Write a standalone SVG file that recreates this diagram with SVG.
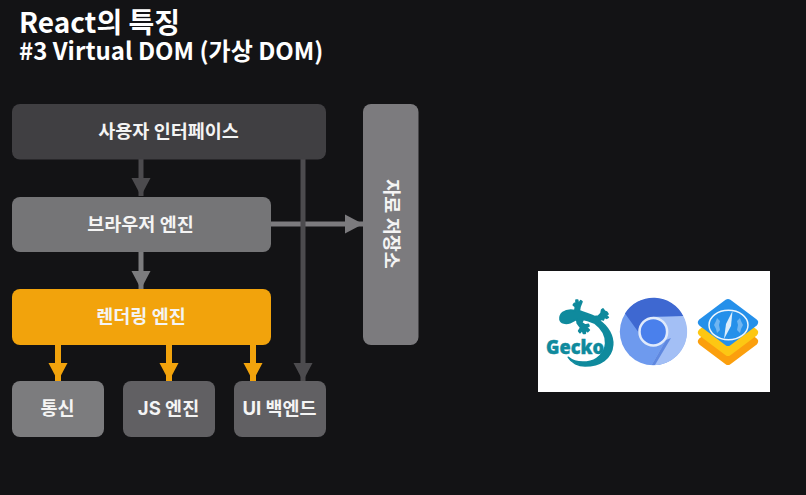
<svg xmlns="http://www.w3.org/2000/svg" width="806" height="495" viewBox="0 0 806 495">
<defs>
<style>
.t{font-family:"Noto Sans CJK KR","Noto Sans",sans-serif;fill:#fff;font-weight:700}
.n{font-family:"Inter","Noto Sans CJK KR",sans-serif;font-weight:700;font-size:18.500px;fill:#f4f4f4;text-anchor:middle}
.d{stroke-linejoin:round;stroke-width:8}
</style>
<marker id="a" markerUnits="userSpaceOnUse" markerWidth="20" markerHeight="22" refX="18" refY="11" orient="auto"><path d="M0 1.500L18 11L0 20.500Z" fill="context-stroke"/></marker>
</defs>
<rect width="806" height="495" fill="#131315"/>
<g id="title">
<text class="t" x="19" y="33" font-size="28">React의 특징</text>
<text class="t" x="19" y="60" font-size="24">#3 Virtual DOM (가상 DOM)</text>
</g>
<g id="connectors" fill="none" stroke-width="5">
<path d="M141 159V196" stroke="#4c4b4e" marker-end="url(#a)"/>
<path d="M141 252V289" stroke="#7c7c7e" marker-end="url(#a)"/>
<path d="M271 224H363" stroke="#7c7b7e" marker-end="url(#a)"/>
<path d="M303 159V381" stroke="#4c4b4e" marker-end="url(#a)"/>
<path d="M58 345V381" stroke="#f2a30c" stroke-width="6" marker-end="url(#a)"/>
<path d="M169 345V381" stroke="#f2a30c" stroke-width="6" marker-end="url(#a)"/>
<path d="M253 345V381" stroke="#f2a30c" stroke-width="6" marker-end="url(#a)"/>
</g>
<g id="ui"><rect x="12" y="104" width="314" height="55.500" rx="8" fill="#403f42"/><text class="n" x="168.500" y="138">사용자 인터페이스</text></g>
<g id="browser"><rect x="12" y="197" width="259" height="55" rx="8" fill="#757577"/><text class="n" x="140.500" y="231">브라우저 엔진</text></g>
<g id="render"><rect x="12" y="289" width="259" height="56" rx="8" fill="#f2a30c"/><text class="n" x="141" y="323">렌더링 엔진</text></g>
<g id="net"><rect x="12" y="381" width="92" height="56" rx="8" fill="#7c7c7e"/><text class="n" x="57.500" y="415">통신</text></g>
<g id="js"><rect x="123" y="381" width="92" height="56" rx="8" fill="#616063"/><text class="n" x="168.500" y="415">JS 엔진</text></g>
<g id="backend"><rect x="234" y="381" width="92" height="56" rx="8" fill="#616063"/><text class="n" x="279.500" y="415">UI 백엔드</text></g>
<g id="storage"><rect x="363" y="104" width="55.500" height="241" rx="8" fill="#7c7b7e"/><text class="n" transform="translate(384.500 224) rotate(90)">자료 저장소</text></g>
<g id="logos">
<rect x="538" y="271" width="232" height="121" fill="#fff"/>
<g id="gecko" fill="#0f8a9d">
<path transform="translate(540 290) scale(.3333)" stroke="#0f8a9d" stroke-width="5" stroke-linejoin="round" d="M60 88C58 70 75 60 92 60L105 62L106 50L100 45L103 40L108 45L108 30L113 30L115 42L122 32L126 35L120 50L118 62C135 70 150 72 165 80L175 78L183 70L185 60L189 57L194 64L200 66L204 72L198 76L205 82L200 85L193 82L190 90L185 88L178 92C205 110 220 140 218 165C215 205 180 228 135 228C115 228 95 218 85 202C100 215 120 218 140 216C170 213 195 190 197 160C198 135 185 115 165 100L145 92L130 88L125 98L135 105L145 103L147 108L140 112L148 120L143 125L136 118L136 130L130 130L127 120L120 128L116 123L122 113L112 100L110 88L90 98C78 102 62 100 60 88Z"/>
<text x="546" y="354" font-family="Open Sans,Noto Sans,sans-serif" font-size="20" font-weight="800" stroke="#0f8a9d" stroke-width=".4" textLength="58" lengthAdjust="spacingAndGlyphs">Gecko</text>
</g>
<g id="chromium">
<circle cx="653.300" cy="331.700" r="33.500" fill="#6e9aee"/>
<path d="M651.700 365A33.500 33.500 0 0 0 683.300 316L653.300 316.700L666 340Z" fill="#a3bff5"/>
<path d="M625 313.500A33.500 33.500 0 0 1 683.300 316L653.300 316.700L639 333Z" fill="#3e68d1"/>
<path d="M666 340L651.700 365L655 365L671 338Z" fill="#5f88e0"/>
<circle cx="653.300" cy="331.700" r="13.800" fill="#4a80ec" stroke="#e0eafb" stroke-width="2.500"/>
</g>
<g id="webkit">
<path class="d" d="M728 322L754 341.500L728 361L702 341.500Z" fill="#fb9f0d" stroke="#fb9f0d"/>
<path class="d" d="M728 313L754 332.500L728 352L702 332.500Z" fill="#fdc713" stroke="#fdc713"/>
<path class="d" d="M728 303L754 322.500L728 342L702 322.500Z" fill="#2590ea" stroke="#2590ea"/>
<ellipse cx="728.500" cy="325" rx="19.500" ry="14.800" fill="none" stroke="#eef6fd" stroke-width="1.500"/>
<path d="M717 318L720 321L719 325L720 330L717 333L716 329L714 325L716 321ZM740 318L737 321L738 325L737 330L740 333L741 329L743 325L741 321Z" fill="#6fb5f1"/>
<path d="M732.500 311L731 326L724 339L726 324Z" fill="#dcedfb"/>
</g>
</g>
</svg>
